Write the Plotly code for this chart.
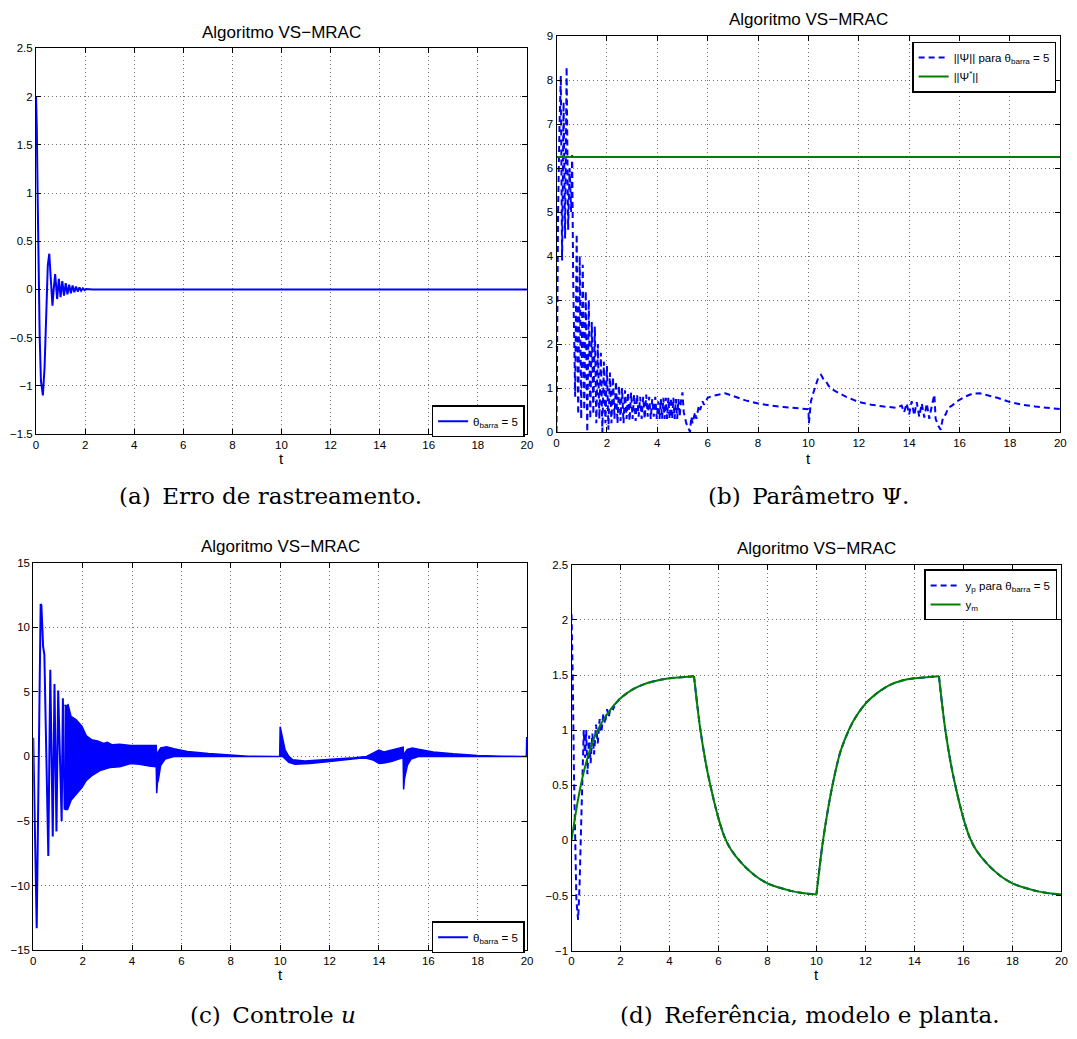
import plotly.graph_objects as go

W, H = 1077, 1039

# ---------------- data ----------------
# (a) tracking error
e_t = [0, 0.03, 0.07, 0.11, 0.15, 0.2, 0.28, 0.35, 0.42, 0.48, 0.54, 0.6, 0.67, 0.72, 0.78,
       0.86, 0.93, 1.0, 1.07, 1.14, 1.21, 1.28, 1.35, 1.42, 1.49, 1.56, 1.63, 1.70, 1.77,
       1.84, 1.91, 1.98, 2.05, 2.3, 20]
e_v = [2.0, 1.7, 0.9, 0.1, -0.5, -0.95, -1.1, -0.8, -0.2, 0.25, 0.37, 0.15, -0.17, 0.0, 0.16,
       -0.10, 0.11, -0.08, 0.085, -0.065, 0.065, -0.05, 0.05, -0.04, 0.04, -0.03, 0.03, -0.022,
       0.02, -0.014, 0.012, -0.008, 0.005, 0.0, 0.0]

# (b) parameter norm
psi_t = [0, 0.02, 0.06, 0.12, 0.17, 0.22, 0.28, 0.34, 0.40, 0.46, 0.52, 0.58, 0.62, 0.66, 0.70, 0.74,
         0.80, 0.86, 0.92, 0.98, 1.04, 1.10, 1.16, 1.22, 1.28, 1.34, 1.40, 1.46, 1.52, 1.58, 1.64,
         1.70, 1.76, 1.82, 1.88, 1.94, 2.00, 2.06, 2.12, 2.18, 2.24, 2.30, 2.36, 2.42, 2.48, 2.54,
         2.60, 2.66, 2.72, 2.78, 2.84, 2.90, 2.96, 3.02, 3.08, 3.14, 3.20, 3.26, 3.32, 3.38, 3.44,
         3.50, 3.56, 3.62, 3.68, 3.74, 3.80, 3.86, 3.92, 3.98,
         4.04, 4.09, 4.14, 4.19, 4.24, 4.29, 4.34, 4.39, 4.44, 4.49, 4.54, 4.59, 4.64, 4.69, 4.74,
         4.79, 4.84, 4.89, 4.94, 5.00, 5.05, 5.15, 5.30,
         5.35, 5.40, 5.50, 5.55, 5.65, 5.70, 5.80, 5.85, 6.0, 6.2, 6.5, 6.7, 7.0, 7.5, 8.0, 8.5,
         9.0, 9.5, 10.0,
         10.02, 10.05, 10.1, 10.2, 10.3, 10.4, 10.5, 10.6, 10.7, 10.8, 11.0, 11.5, 12.0, 12.5,
         13.0, 13.5,
         13.7, 13.8, 13.9, 14.0, 14.1, 14.2, 14.3, 14.4, 14.5, 14.6, 14.7, 14.8, 14.9, 15.0,
         15.05, 15.15, 15.25, 15.35, 15.45, 15.55, 15.7, 15.9, 16.2, 16.5, 16.8, 17.0, 17.5, 18.0,
         18.5, 19.0, 19.5, 20.0]
psi_v = [0, 3.0, 5.0, 7.0, 8.1, 3.9, 7.5, 4.4, 8.3, 4.6, 6.0, 5.0, 6.3, 3.5, 2.0, 0.8,
         4.5, 0.4, 4.0, 0.3, 3.8, 0.5, 3.2, 0.0, 3.0, 0.3, 2.5, 0.4, 2.4, 0.2, 2.0, 0.3, 1.8, 0.0,
         1.6, 0.2, 1.5, 0.05, 1.35, 0.2, 1.25, 0.3, 1.15, 0.2, 1.05, 0.25, 1.0, 0.2, 0.95, 0.3, 0.9,
         0.25, 0.9, 0.3, 0.85, 0.25, 0.85, 0.35, 0.8, 0.3, 0.8, 0.3, 0.85, 0.35, 0.8, 0.3, 0.75,
         0.35, 0.8, 0.3,
         0.7, 0.3, 0.75, 0.3, 0.78, 0.3, 0.78, 0.3, 0.78, 0.3, 0.78, 0.3, 0.78, 0.3, 0.75, 0.3,
         0.75, 0.35, 0.7, 0.9, 0.45, 0.2, 0.0,
         0.35, 0.2, 0.45, 0.3, 0.6, 0.5, 0.7, 0.62, 0.78, 0.82, 0.86, 0.88, 0.82, 0.72, 0.65, 0.6,
         0.57, 0.55, 0.52,
         0.2, 0.4, 0.7, 0.9, 1.1, 1.25, 1.3, 1.2, 1.15, 1.05, 0.95, 0.8, 0.68, 0.62, 0.58, 0.55,
         0.6, 0.45, 0.65, 0.4, 0.7, 0.38, 0.68, 0.35, 0.65, 0.33, 0.65, 0.3, 0.6, 0.85,
         0.3, 0.15, 0.05, 0.35, 0.4, 0.55, 0.6, 0.7, 0.8, 0.87, 0.88, 0.85, 0.78, 0.68, 0.62, 0.58,
         0.55, 0.52]
psi_star_t = [0, 20]
psi_star_v = [6.25, 6.25]

# (c) control u : distinct early swings, then dense band (upper / lower envelope)
u_t = [0, 0.14, 0.30, 0.33, 0.40, 0.45, 0.61, 0.69, 0.79, 0.86, 0.94, 1.01, 1.15, 1.20, 1.27]
u_v = [1.45, -13.3, 11.8, 11.7, 8.5, 7.9, -7.7, 6.7, -6.2, 5.6, -5.8, 5.1, -5.0, 4.5, -4.1]
u_up_t = [1.27, 1.32, 1.41, 1.53, 1.73, 1.97, 2.15, 2.36, 2.6, 2.85, 3.0, 3.2, 3.5, 3.95, 4.3,
          4.7, 4.98, 5.01, 5.06, 5.16, 5.4, 5.7, 6.24, 7.1, 7.9, 8.7, 9.85, 9.98, 10.0, 10.03,
          10.1, 10.2, 10.35, 10.5, 11.0, 12.0, 13.0, 13.5, 13.8, 14.0, 14.2, 14.5, 14.8, 14.98,
          15.01, 15.06, 15.15, 15.35, 15.6, 16.2, 17.0, 18.0, 19.0, 19.97, 19.985, 20.0]
u_up_v = [4.0, 3.9, 4.0, 3.1, 2.85, 2.35, 1.6, 1.3, 1.2, 1.0, 1.1, 0.9, 0.95, 0.85, 0.85,
          0.85, 0.85, -0.3, 0.35, 0.65, 0.75, 0.6, 0.38, 0.23, 0.1, 0.02, 0.0, 0.0, 2.3, 2.0,
          1.2, 0.5, 0.0, -0.25, -0.35, -0.25, -0.1, 0.0, 0.3, 0.5, 0.35, 0.5, 0.65, 0.72,
          -0.3, 0.3, 0.55, 0.65, 0.55, 0.35, 0.2, 0.08, 0.02, 0.0, 1.45, 1.45]
u_lo_t = [1.27, 1.39, 1.53, 1.73, 1.97, 2.15, 2.36, 2.7, 3.1, 3.5, 3.95, 4.3, 4.7, 4.98, 5.0,
          5.03, 5.06, 5.16, 5.34, 5.7, 6.2, 8.0, 9.98, 10.0, 10.1, 10.2, 10.35, 10.6, 11.2, 12.0,
          12.6, 13.3, 13.5, 13.8, 14.0, 14.2, 14.5, 14.8, 14.98, 15.0, 15.03, 15.06, 15.15, 15.3,
          15.6, 17.0, 20.0]
u_lo_v = [-4.1, -4.1, -3.4, -2.9, -2.4, -1.85, -1.5, -1.1, -0.85, -0.8, -0.55, -0.6, -0.75,
          -0.8, -2.85, -2.0, -1.9, -0.7, -0.2, 0.0, 0.0, 0.0, 0.0, 0.0, 0.0, -0.2, -0.45, -0.6,
          -0.55, -0.4, -0.25, -0.13, -0.15, -0.3, -0.55, -0.5, -0.4, -0.2, -0.1, -2.55, -1.8,
          -1.5, -0.7, -0.2, 0.0, 0.0, 0.0]

# (d) model output y_m and plant output y_p
ym_t = [0, 0.25, 0.5, 0.75, 1, 1.5, 2, 2.5, 3, 3.5, 4, 4.5, 5,
        5.25, 5.5, 5.75, 6, 6.25, 6.5, 7, 7.5, 8, 8.5, 9, 9.5, 10,
        10.25, 10.5, 10.75, 11, 11.5, 12, 12.5, 13, 13.5, 14, 14.5, 15,
        15.25, 15.5, 15.75, 16, 16.25, 16.5, 17, 17.5, 18, 18.5, 19, 19.5, 20]
ym_v = [0, 0.35, 0.62, 0.82, 0.97, 1.16, 1.29, 1.37, 1.42, 1.45, 1.47, 1.48, 1.49,
        1.02, 0.68, 0.42, 0.2, 0.03, -0.08, -0.22, -0.32, -0.39, -0.43, -0.46, -0.48, -0.49,
        -0.03, 0.32, 0.6, 0.82, 1.08, 1.24, 1.34, 1.41, 1.45, 1.47, 1.48, 1.49,
        1.02, 0.68, 0.42, 0.2, 0.03, -0.08, -0.22, -0.32, -0.39, -0.43, -0.46, -0.48, -0.49]
ym_breaks = [0, 5, 10, 15, 20]
yp_t_early = [0, 0.05, 0.1, 0.15, 0.2, 0.27, 0.33, 0.4, 0.45, 0.5, 0.55, 0.6, 0.65, 0.72, 0.78,
              0.85, 0.92, 1.0, 1.07, 1.15, 1.22, 1.3, 1.37, 1.45, 1.52, 1.6, 1.7, 1.8]
yp_v_early = [2.05, 1.5, 0.6, -0.1, -0.55, -0.72, -0.4, 0.2, 0.65, 1.0, 0.75, 1.0, 0.6, 0.95,
              0.7, 0.97, 0.78, 1.05, 0.88, 1.1, 0.98, 1.15, 1.06, 1.19, 1.12, 1.21, 1.19, 1.24]

for a, b in [(e_t, e_v), (psi_t, psi_v), (u_t, u_v), (u_up_t, u_up_v), (u_lo_t, u_lo_v),
             (ym_t, ym_v), (yp_t_early, yp_v_early)]:
    assert len(a) == len(b), (len(a), len(b))

band_t = u_up_t + u_lo_t[::-1]
band_v = u_up_v + u_lo_v[::-1]


def segment(ts, vs, lo, hi):
    pts = [(t, v) for t, v in zip(ts, vs) if lo <= t <= hi]
    return [p[0] for p in pts], [p[1] for p in pts]


# ---------------- figure ----------------
BLUE = "#0000ff"
GREEN = "#008000"
SANS = "Liberation Sans, Arial, sans-serif"
SERIF = "DejaVu Serif, serif"
DASH = "6px,4px"

fig = go.Figure()

fig.add_trace(go.Scatter(x=e_t, y=e_v, mode="lines", line=dict(color=BLUE, width=2),
                         name="θ<sub>barra</sub> = 5", xaxis="x", yaxis="y", legend="legend"))

fig.add_trace(go.Scatter(x=psi_t, y=psi_v, mode="lines",
                         line=dict(color=BLUE, width=2, dash=DASH),
                         name="||Ψ|| para θ<sub>barra</sub> = 5", xaxis="x2", yaxis="y2",
                         legend="legend2"))
fig.add_trace(go.Scatter(x=psi_star_t, y=psi_star_v, mode="lines",
                         line=dict(color=GREEN, width=2),
                         name="||Ψ<sup>*</sup>||", xaxis="x2", yaxis="y2", legend="legend2"))

fig.add_trace(go.Scatter(x=u_t, y=u_v, mode="lines", line=dict(color=BLUE, width=2),
                         name="θ<sub>barra</sub> = 5", xaxis="x3", yaxis="y3", legend="legend3"))
fig.add_trace(go.Scatter(x=band_t, y=band_v, mode="lines", fill="toself", fillcolor=BLUE,
                         line=dict(color=BLUE, width=1.5), showlegend=False,
                         xaxis="x3", yaxis="y3"))

# (d) plant output: early oscillation + continuation (under the model curve)
fig.add_trace(go.Scatter(x=yp_t_early, y=yp_v_early, mode="lines",
                         line=dict(color=BLUE, width=2, dash=DASH),
                         name="y<sub>p</sub> para θ<sub>barra</sub> = 5", xaxis="x4", yaxis="y4",
                         legend="legend4"))
for j in range(4):
    st, sv = segment(ym_t, ym_v, max(ym_breaks[j], 2), ym_breaks[j + 1])
    if j == 0:
        st = [yp_t_early[-1]] + st
        sv = [yp_v_early[-1]] + sv
    fig.add_trace(go.Scatter(x=st, y=sv, mode="lines", line_shape="spline",
                             line=dict(color=BLUE, width=2, dash=DASH, smoothing=0.8),
                             showlegend=False, xaxis="x4", yaxis="y4"))
for j in range(4):
    st, sv = segment(ym_t, ym_v, ym_breaks[j], ym_breaks[j + 1])
    fig.add_trace(go.Scatter(x=st, y=sv, mode="lines", line_shape="spline",
                             line=dict(color=GREEN, width=2, smoothing=0.8),
                             name="y<sub>m</sub>", showlegend=(j == 0),
                             xaxis="x4", yaxis="y4", legend="legend4"))

# panel pixel boxes: (left, right, top, bottom)
panels = {
    "a": (33.3, 528.3, 42.9, 433.0),
    "b": (558.2, 1066.2, 30.5, 431.0),
    "c": (30.5, 528.5, 563.1, 955.3),
    "d": (573.3, 1067.3, 565.3, 955.7),
}
yranges = {"a": ([-1.5, 2.5], 0.5), "b": ([0, 9], 1), "c": ([-15, 15], 5), "d": ([-1, 2.5], 0.5)}

common = dict(showline=True, linecolor="black", linewidth=1, mirror="ticks", ticks="inside",
              ticklen=5, tickcolor="black", showgrid=True, gridcolor="rgba(0,0,0,0.55)",
              griddash="1px,3px", gridwidth=1, zeroline=False,
              tickfont=dict(family=SANS, size=11.5, color="black"))

layout = {}
for i, k in enumerate(["a", "b", "c", "d"]):
    l, r, t, b = panels[k]
    sfx = "" if i == 0 else str(i + 1)
    layout["xaxis" + sfx] = dict(common, domain=[l / W, r / W], range=[0, 20], dtick=2,
                                 anchor="y" + sfx)
    layout["yaxis" + sfx] = dict(common, domain=[1 - b / H, 1 - t / H], range=yranges[k][0],
                                 dtick=yranges[k][1], anchor="x" + sfx)

leg_common = dict(bgcolor="white", bordercolor="black", borderwidth=1.5,
                  font=dict(family=SANS, size=11.5, color="black"), xanchor="right",
                  yanchor="top", tracegroupgap=0, itemwidth=30)
layout["legend"] = dict(leg_common, x=526 / W, y=1 - 404 / H)
layout["legend2"] = dict(leg_common, x=1062 / W, y=1 - 36 / H)
layout["legend3"] = dict(leg_common, x=526 / W, y=1 - 926 / H)
layout["legend4"] = dict(leg_common, x=1063 / W, y=1 - 570 / H)

annotations = []
titles = [(280.8, 26.7), (812.2, 14.0), (279.5, 546.7), (820.3, 549.3)]
for (x, y) in titles:
    annotations.append(dict(text="Algoritmo VS−MRAC", x=x / W, y=1 - y / H, xref="paper",
                            yref="paper", showarrow=False, xanchor="center", yanchor="middle",
                            font=dict(family=SANS, size=17, color="black")))
tlabels = [(280.8, 458), (812.2, 458), (279.5, 980), (820.3, 980)]
for (x, y) in tlabels:
    annotations.append(dict(text="t", x=x / W, y=1 - y / H, xref="paper", yref="paper",
                            showarrow=False, xanchor="center", yanchor="middle",
                            font=dict(family=SANS, size=15, color="black")))
captions = [("(a)\u2002Erro de rastreamento.", 270, 496),
            ("(b)\u2002Parâmetro Ψ.", 812, 496),
            ("(c)\u2002Controle <i>u</i>", 272, 1021),
            ("(d)\u2002Referência, modelo e planta.", 814, 1021)]
for (txt, x, y) in captions:
    annotations.append(dict(text=txt, x=x / W, y=1 - y / H, xref="paper", yref="paper",
                            showarrow=False, xanchor="center", yanchor="middle",
                            font=dict(family=SERIF, size=23, color="black")))

fig.update_layout(width=W, height=H, margin=dict(l=0, r=0, t=0, b=0),
                  paper_bgcolor="white", plot_bgcolor="white", showlegend=True,
                  annotations=annotations, **layout)

fig.write_html("out.html")
